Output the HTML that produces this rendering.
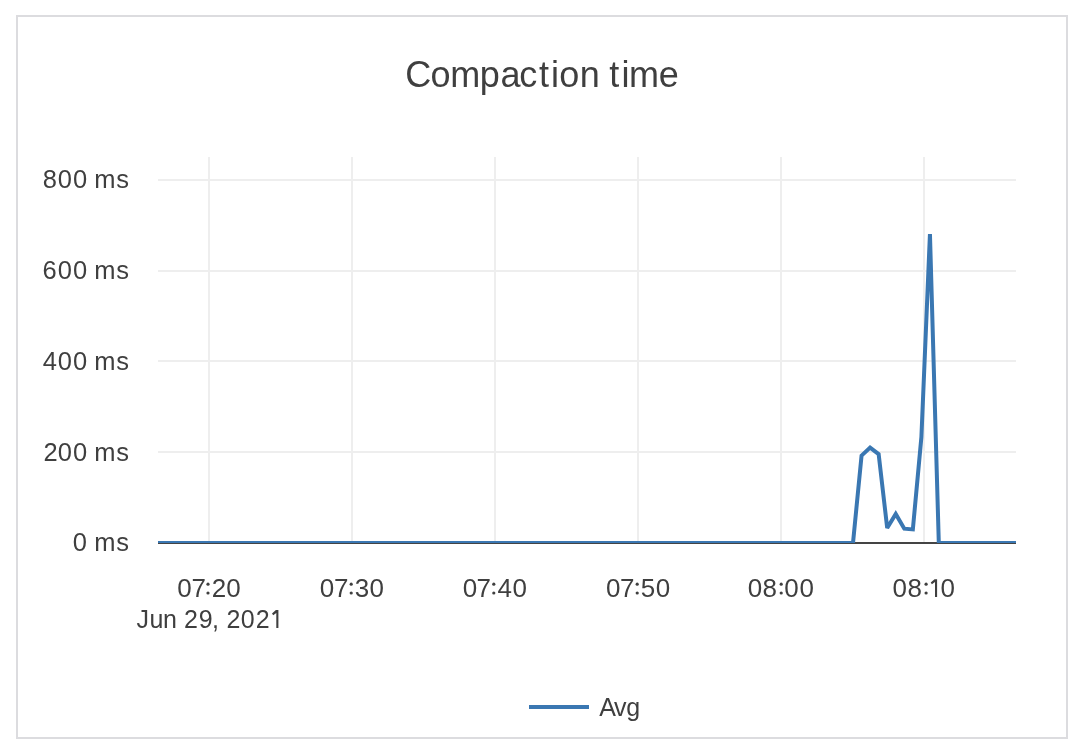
<!DOCTYPE html>
<html><head><meta charset="utf-8"><style>
html,body{margin:0;padding:0;background:#fff;width:1076px;height:750px;overflow:hidden}
svg{position:absolute;left:0;top:0;will-change:transform;font-family:"Liberation Sans",sans-serif}
</style></head><body>
<svg width="1076" height="750" viewBox="0 0 1076 750">
<rect x="17" y="16" width="1050" height="722" fill="none" stroke="#dcdcdf" stroke-width="2"/>
<rect x="208" y="157" width="2" height="385" fill="#eeeeee"/>
<rect x="351" y="157" width="2" height="385" fill="#eeeeee"/>
<rect x="494" y="157" width="2" height="385" fill="#eeeeee"/>
<rect x="637" y="157" width="2" height="385" fill="#eeeeee"/>
<rect x="780" y="157" width="2" height="385" fill="#eeeeee"/>
<rect x="923" y="157" width="2" height="385" fill="#eeeeee"/>
<rect x="158" y="179" width="858" height="2" fill="#eeeeee"/>
<rect x="158" y="270" width="858" height="2" fill="#eeeeee"/>
<rect x="158" y="360" width="858" height="2" fill="#eeeeee"/>
<rect x="158" y="451" width="858" height="2" fill="#eeeeee"/>
<rect x="158" y="542" width="858" height="2" fill="#444444"/>
<clipPath id="c"><rect x="158" y="150" width="858" height="393"/></clipPath>
<polyline clip-path="url(#c)" points="158.00,543.00 853.00,543.00 861.55,455.60 870.10,447.60 878.65,454.10 887.20,528.07 895.75,513.90 904.30,528.70 912.85,529.40 921.40,437.00 929.95,234.10 938.80,543.00 1016.00,543.00" fill="none" stroke="#3a77b2" stroke-width="4" stroke-linejoin="miter" stroke-miterlimit="3"/>
<rect x="529" y="705" width="60" height="4" fill="#3a77b2"/>
<text x="405.37 430.39 450.31 479.68 500.57 519.37 538.96 550.89 559.29 579.71 584.71 609.36 621.39 629.01 658.67" y="87.2" font-size="36" fill="#3f3f3f">Compaction time</text>
<text x="41.95 56.67 71.67 76.67 92.36 113.91" y="188.0" font-size="25" transform="scale(1.0200,1)" fill="#3f3f3f">800 ms</text>
<text x="41.77 56.67 71.67 76.67 92.36 113.91" y="279.0" font-size="25" transform="scale(1.0200,1)" fill="#3f3f3f">600 ms</text>
<text x="41.98 56.67 71.67 76.67 92.36 113.91" y="370.0" font-size="25" transform="scale(1.0200,1)" fill="#3f3f3f">400 ms</text>
<text x="42.66 56.67 71.67 76.67 92.36 113.91" y="461.0" font-size="25" transform="scale(1.0200,1)" fill="#3f3f3f">200 ms</text>
<text x="71.33 76.33 92.52 113.91" y="551.0" font-size="25" transform="scale(1.0200,1)" fill="#3f3f3f">0 ms</text>
<text x="170.47 184.20 203.55 217.48" y="597.0" font-size="25" transform="scale(1.0400,1)" fill="#3f3f3f">0720</text>
<text x="307.39 321.12 341.07 355.18" y="597.0" font-size="25" transform="scale(1.0400,1)" fill="#3f3f3f">0730</text>
<text x="444.89 458.24 478.27 492.77" y="597.0" font-size="25" transform="scale(1.0400,1)" fill="#3f3f3f">0740</text>
<text x="582.77 596.12 616.11 630.56" y="597.0" font-size="25" transform="scale(1.0400,1)" fill="#3f3f3f">0750</text>
<text x="718.93 733.24 754.22 768.64" y="597.0" font-size="25" transform="scale(1.0400,1)" fill="#3f3f3f">0800</text>
<text x="858.25 872.57 904.22" y="597.0" font-size="25" transform="scale(1.0400,1)" fill="#3f3f3f">080</text>
<text x="136.41 149.38 163.04 168.04 183.94 198.83 212.05 217.05 226.44 240.82 255.74" y="628.0" font-size="25" fill="#3f3f3f">Jun 29, 202</text>
<text x="599.25 614.01 626.35" y="715.7" font-size="25" fill="#3f3f3f">Avg</text>
<polygon points="930.70,582.50 934.60,579.20 937.10,579.20 937.10,596.90 935.00,596.90 935.00,582.10 931.90,584.30" fill="#3f3f3f"/>
<polygon points="272.00,613.40 275.90,610.10 278.40,610.10 278.40,627.90 276.30,627.90 276.30,613.00 273.20,615.20" fill="#3f3f3f"/>
<circle cx="208.0" cy="584.16" r="1.6" fill="#3f3f3f"/>
<circle cx="208.0" cy="593.0" r="1.6" fill="#3f3f3f"/>
<circle cx="351.2" cy="584.16" r="1.6" fill="#3f3f3f"/>
<circle cx="351.2" cy="593.0" r="1.6" fill="#3f3f3f"/>
<circle cx="493.8" cy="584.16" r="1.6" fill="#3f3f3f"/>
<circle cx="493.8" cy="593.0" r="1.6" fill="#3f3f3f"/>
<circle cx="637.2" cy="584.16" r="1.6" fill="#3f3f3f"/>
<circle cx="637.2" cy="593.0" r="1.6" fill="#3f3f3f"/>
<circle cx="781.2" cy="584.16" r="1.6" fill="#3f3f3f"/>
<circle cx="781.2" cy="593.0" r="1.6" fill="#3f3f3f"/>
<circle cx="926.1" cy="584.16" r="1.6" fill="#3f3f3f"/>
<circle cx="926.1" cy="593.0" r="1.6" fill="#3f3f3f"/>
</svg>
</body></html>
